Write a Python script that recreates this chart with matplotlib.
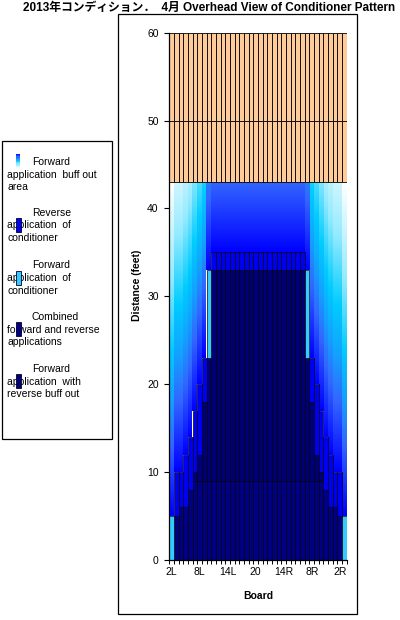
import numpy as np
import matplotlib.pyplot as plt
from matplotlib.colors import LinearSegmentedColormap
from matplotlib.patches import Rectangle

plt.rcParams['font.family'] = ['Liberation Sans', 'Noto Sans CJK JP', 'DejaVu Sans']

title = "2013年コンディション．  4月 Overhead View of Conditioner Pattern"

boards = ['2L', '3L', '4L', '5L', '6L', '7L', '8L', '9L', '10L', '11L',
          '12L', '13L', '14L', '15L', '16L', '17L', '18L', '19L', '20',
          '19R', '18R', '17R', '16R', '15R', '14R', '13R', '12R', '11R',
          '10R', '9R', '8R', '7R', '6R', '5R', '4R', '3R', '2R', '1R']
tick_boards = ['2L', '8L', '14L', '20', '14R', '8R', '2R']

# feet of lane covered by each series, stacked from the foul line
combined = [0, 5, 6, 6, 8, 9, 9, 9, 9, 9, 9, 9, 9, 9, 9, 9, 9, 9, 9,
            9, 9, 9, 9, 9, 9, 9, 9, 9, 9, 9, 9, 9, 9, 8, 6, 6, 5, 0]
fwd_rev_buff = [0, 0, 0, 0, 0, 1, 3, 9, 14, 24, 24, 24, 24, 24, 24, 24, 24, 24, 24,
                24, 24, 24, 24, 24, 24, 24, 24, 24, 24, 14, 9, 3, 1, 0, 0, 0, 0, 0]
fwd_app = [5, 0, 0, 0, 0, 0, 0, 0, 10, 0, 0, 0, 0, 0, 0, 0, 0, 0, 0,
           0, 0, 0, 0, 0, 0, 0, 0, 0, 0, 10, 0, 0, 0, 0, 0, 0, 0, 5]
reverse = [0, 5, 4, 6, 6, 7, 8, 5, 0, 2, 2, 2, 2, 2, 2, 2, 2, 2, 2,
           2, 2, 2, 2, 2, 2, 2, 2, 2, 2, 0, 5, 8, 7, 6, 6, 4, 5, 0]
buff_out = [38, 33, 33, 31, 29, 26, 23, 20, 10, 8, 8, 8, 8, 8, 8, 8, 8, 8, 8,
            8, 8, 8, 8, 8, 8, 8, 8, 8, 8, 10, 20, 23, 26, 29, 31, 33, 33, 38]
dry_near = [7] * len(boards)
dry_far = [10] * len(boards)

legend_lines = [
    ["Forward", "application  buff out", "area"],
    ["Reverse", "application  of", "conditioner"],
    ["Forward", "application  of", "conditioner"],
    ["Combined", "forward and reverse", "applications"],
    ["Forward", "application  with", "reverse buff out"],
]

NAVY = '#000080'
NAVY2 = '#000072'
CYAN = '#33ccff'
BLUE = '#0000f0'
ORANGE = '#ffcc99'

# buff-out gradient, stops in feet above the start of the buff-out area
grad_len = 38.0
buff_cmap = LinearSegmentedColormap.from_list('buff', [
    (0 / grad_len, (0.0, 0.0, 1.0)),
    (8 / grad_len, (0.20, 0.40, 1.0)),
    (13 / grad_len, (0.08, 0.62, 1.0)),
    (19 / grad_len, (0.0, 0.80, 1.0)),
    (27 / grad_len, (0.58, 0.92, 1.0)),
    (1.0, (1.0, 1.0, 1.0)),
])

W, H = 400, 620
fig = plt.figure(figsize=(W / 100, H / 100), dpi=100)

def fx(px):
    return px / W

def fy(py):
    return 1 - py / H

# chart frame
fig.patches.append(Rectangle((fx(118), fy(614)), fx(357) - fx(118), fy(14) - fy(614),
                             transform=fig.transFigure, fill=False,
                             edgecolor='black', lw=0.9))

ax = fig.add_axes([fx(169.3), fy(560), fx(346.8) - fx(169.3), fy(32.7) - fy(560)])

x = np.arange(len(boards))
base = np.array(combined) + np.array(fwd_rev_buff) + np.array(fwd_app) + np.array(reverse)
top = base + np.array(buff_out)

# gradient fill of the buff-out segments
yy = np.linspace(0, top.max(), 1201)
h = yy[:, None] - base[None, :]
inside = (h >= 0) & (yy[:, None] <= top[None, :])
rgba = buff_cmap(np.clip(h / grad_len, 0, 1))
rgba[~inside, 3] = 0
ax.imshow(rgba, extent=(-0.5, len(boards) - 0.5, 0, top.max()), origin='lower',
          aspect='auto', interpolation='nearest', zorder=1)

bottom = np.zeros(len(boards))
for vals, color in [(combined, NAVY), (fwd_rev_buff, NAVY2), (fwd_app, CYAN), (reverse, BLUE)]:
    vals = np.array(vals, dtype=float)
    m = vals > 0
    ax.bar(x[m], vals[m], width=1.0, bottom=bottom[m], color=color,
           edgecolor='#000014', linewidth=0.5, zorder=2)
    bottom += vals
bottom += np.array(buff_out)
for vals in [dry_near, dry_far]:
    vals = np.array(vals, dtype=float)
    ax.bar(x, vals, width=1.0, bottom=bottom, color=ORANGE,
           edgecolor='black', linewidth=0.6, zorder=2)
    bottom += vals

ax.set_xlim(-0.5, len(boards) - 0.5)
ax.set_ylim(0, 60)
for s in ['top', 'right']:
    ax.spines[s].set_visible(False)
for s in ['left', 'bottom']:
    ax.spines[s].set_linewidth(0.9)
    ax.spines[s].set_zorder(3)

ax.set_yticks([0, 10, 20, 30, 40, 50, 60])
ax.tick_params(axis='y', direction='out', length=3.6, width=0.8, pad=4, labelsize=7.5)
ax.set_xticks(np.arange(-0.5, len(boards), 1.0))
ax.set_xticklabels([])
ax.tick_params(axis='x', which='major', direction='out', length=3, width=0.7)
ax.set_xticks([boards.index(b) for b in tick_boards], tick_boards, minor=True)
ax.tick_params(axis='x', which='minor', length=0, pad=5, labelsize=7.5)

ax.set_xlabel('Board', fontsize=7.5, fontweight='bold', labelpad=10)
ax.set_ylabel('Distance (feet)', fontsize=7.5, fontweight='bold', va='center')
ax.yaxis.set_label_coords((137 - 169.3) / 177.5, 0.52)

fig.text(fx(209.5), fy(8), title, ha='center', va='center',
         fontsize=8.5, fontweight='bold')

# legend
fig.patches.append(Rectangle((fx(2), fy(439)), fx(112) - fx(2), fy(141) - fy(439),
                             transform=fig.transFigure, fill=False,
                             edgecolor='black', lw=0.9))
entry_top = [162, 212.5, 265.5, 317, 369]
line_gap = 12.7
icon_colors = [None, BLUE, CYAN, NAVY, NAVY2]
for k, lines in enumerate(legend_lines):
    y0 = entry_top[k]
    for j, line in enumerate(lines):
        fig.text(fx(32 if j == 0 else 7), fy(y0 + j * line_gap), line,
                 ha='left', va='center', fontsize=7.5)
    iy = y0 + 5 if k > 0 else y0 - 8
    if icon_colors[k] is None:
        n = 12
        for s in range(n):
            c = buff_cmap(1 - (s + 0.5) / n)
            fig.patches.append(Rectangle((fx(16), fy(y0 + 6 - s * 14 / n)),
                                         fx(20) - fx(16), (14 / n) / H,
                                         transform=fig.transFigure, facecolor=c,
                                         edgecolor='none', zorder=5))
    else:
        fig.patches.append(Rectangle((fx(16), fy(iy + 14)), fx(21) - fx(16), 14 / H,
                                     transform=fig.transFigure,
                                     facecolor=icon_colors[k], edgecolor='#000033',
                                     lw=0.6, zorder=5))

fig.savefig('out.png', dpi=100)
